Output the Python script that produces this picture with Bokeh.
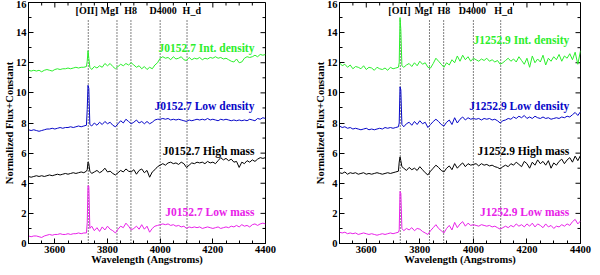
import math
from bokeh.plotting import figure
from bokeh.layouts import row
from bokeh.models import Range1d, SingleIntervalTicker
from bokeh.core.properties import value
from bokeh.embed import file_html
from bokeh.resources import INLINE

# ---------------- data ----------------
wave = list(range(3500, 3721, 10)) + [3723, 3726, 3729, 3733] + list(range(3740, 4401, 10))

line_wave = [3727, 3836, 3889, 4000, 4102]
line_names = ["[OII]", "MgI", "H8", "D4000", "H_d"]

# Left panel: J0152.7
l_int_pre = [11.5, 11.45, 11.5, 11.45, 11.5, 11.4, 11.5, 11.55, 11.5, 11.45, 11.55, 11.6,
             11.55, 11.6, 11.6, 11.65, 11.6, 11.65, 11.7, 11.65, 11.7, 11.7, 11.75]
l_int_spk = [12.1, 12.8, 12.3, 11.7]
l_int_post = [11.55, 11.75, 11.65, 11.8, 11.7, 11.95, 11.8, 11.95, 11.75, 11.6,      # 3740-3830
              11.75, 11.9, 11.8, 11.95, 11.85, 12.0, 11.85, 11.7, 11.8, 11.6,       # 3840-3930
              11.75, 11.55, 11.7, 11.6, 11.85, 12.0, 12.3, 12.4, 12.3, 12.35,       # 3940-4030
              12.2, 12.4, 12.25, 12.3, 12.4, 12.2, 12.15, 12.35, 12.2, 12.3,        # 4040-4130
              12.25, 12.35, 12.2, 12.3, 12.25, 12.35, 12.3, 12.4, 12.3, 12.35,      # 4140-4230
              12.25, 12.3, 12.2, 12.1, 12.05, 12.25, 12.0, 12.05, 12.3, 12.4,       # 4240-4330
              12.35, 12.4, 12.5, 12.4, 12.55, 12.5, 12.55]                          # 4340-4400

l_low_pre = [7.55, 7.5, 7.55, 7.5, 7.45, 7.5, 7.55, 7.6, 7.6, 7.65, 7.6, 7.65,
             7.7, 7.65, 7.7, 7.7, 7.75, 7.7, 7.75, 7.8, 7.75, 7.8, 7.85]
l_low_spk = [8.9, 10.5, 10.3, 7.9]
l_low_post = [7.8, 8.0, 7.85, 8.05, 7.9, 8.1, 7.95, 8.05, 7.85, 7.75,
              7.95, 8.15, 8.0, 8.25, 8.1, 7.95, 8.05, 8.2, 8.0, 8.1,
              7.95, 8.1, 7.95, 8.05, 8.2, 8.25, 8.25, 8.3, 8.25, 8.3,
              8.2, 8.25, 8.2, 8.25, 8.2, 8.15, 8.1, 8.2, 8.15, 8.2,
              8.25, 8.2, 8.25, 8.2, 8.3, 8.2, 8.25, 8.2, 8.15, 8.25,
              8.2, 8.25, 8.2, 8.15, 8.2, 8.15, 8.2, 8.15, 8.2, 8.15,
              8.25, 8.2, 8.15, 8.3, 8.25, 8.35, 8.3]

l_high_pre = [4.45, 4.4, 4.45, 4.5, 4.45, 4.5, 4.45, 4.5, 4.55, 4.5, 4.55, 4.6,
              4.55, 4.6, 4.65, 4.6, 4.65, 4.7, 4.65, 4.7, 4.75, 4.7, 4.8]
l_high_spk = [4.9, 5.4, 5.3, 4.8]
l_high_post = [4.65, 4.75, 4.85, 4.7, 4.8, 5.0, 4.75, 4.8, 4.65, 4.55,
               4.7, 4.85, 4.75, 4.95, 4.8, 4.75, 4.9, 4.6, 4.85, 4.95,
               4.7, 4.85, 4.4, 4.75, 4.9, 5.1, 5.2, 5.3, 5.2, 5.35,
               5.4, 5.3, 5.35, 5.25, 5.4, 5.3, 5.05, 5.2, 5.35, 5.3,
               5.4, 5.35, 5.4, 5.3, 5.45, 5.35, 5.4, 5.3, 5.5, 5.7,
               5.55, 5.65, 5.5, 5.6, 5.4, 5.45, 5.05, 5.4, 5.3, 5.5,
               5.4, 5.55, 5.45, 5.6, 5.7, 5.65, 5.7]

l_lowm_pre = [0.5, 0.45, 0.5, 0.5, 0.45, 0.4, 0.5, 0.55, 0.6, 0.55, 0.6, 0.6,
              0.65, 0.6, 0.6, 0.65, 0.6, 0.65, 0.65, 0.7, 0.65, 0.7, 0.7]
l_lowm_spk = [1.4, 3.85, 3.8, 1.0]
l_lowm_post = [1.15, 0.85, 1.05, 0.8, 1.1, 0.9, 1.15, 0.95, 0.85, 0.7,
               0.95, 1.15, 1.05, 1.35, 1.15, 0.9, 1.0, 1.15, 0.95, 1.25,
               0.95, 1.15, 0.75, 1.0, 1.15, 1.2, 1.25, 1.3, 1.25, 1.3,
               1.2, 1.25, 1.15, 1.2, 1.1, 1.15, 1.0, 1.1, 1.05, 1.1,
               1.05, 1.1, 1.0, 1.05, 1.1, 1.05, 1.0, 1.05, 1.1, 1.0,
               1.05, 1.1, 1.05, 1.15, 1.1, 1.2, 1.1, 1.25, 1.15, 1.2,
               1.1, 1.25, 1.3, 1.2, 1.3, 1.35, 1.3]

# Right panel: J1252.9
r_int_pre = [12.0, 11.8, 11.9, 11.7, 11.85, 11.6, 11.75, 11.7, 11.6, 11.8, 11.55, 11.7,
             11.65, 11.5, 11.7, 11.6, 11.55, 11.65, 11.5, 11.7, 11.6, 11.65, 11.7]
r_int_spk = [12.0, 15.0, 14.2, 11.8]
r_int_post = [11.7, 11.85, 11.95, 11.75, 12.0, 11.8, 12.1, 11.9, 12.0, 11.7,
              11.65, 11.95, 12.3, 12.1, 11.9, 11.7, 12.0, 11.85, 12.2, 12.0,
              12.45, 12.1, 12.5, 12.2, 12.4, 12.1, 12.3, 12.2, 12.1, 12.25,
              12.15, 12.3, 12.1, 12.2, 12.05, 12.15, 11.9, 12.0, 12.15, 12.3,
              12.1, 12.25, 12.05, 12.4, 12.15, 11.9, 12.3, 11.7, 12.45, 12.0,
              12.25, 12.05, 12.5, 11.85, 12.3, 12.1, 12.4, 12.2, 12.55, 12.1,
              12.45, 12.3, 12.6, 12.2, 12.7, 11.9, 12.8]

r_low_pre = [7.8, 7.7, 7.75, 7.65, 7.7, 7.6, 7.65, 7.6, 7.55, 7.6, 7.65, 7.55,
             7.6, 7.55, 7.6, 7.65, 7.6, 7.7, 7.65, 7.7, 7.65, 7.7, 7.75]
r_low_spk = [8.0, 10.4, 10.2, 7.9]
r_low_post = [7.75, 7.95, 8.05, 7.85, 8.1, 7.9, 8.15, 7.95, 8.05, 7.7,
              7.9, 8.1, 8.25, 8.1, 7.9, 7.8, 8.05, 8.2, 7.9, 8.35,
              8.0, 8.25, 8.4, 8.2, 8.35, 8.25, 8.3, 8.25, 8.3, 8.2,
              8.3, 8.25, 8.3, 8.2, 8.25, 8.15, 8.0, 8.15, 8.2, 8.3,
              8.25, 8.4, 8.3, 8.45, 8.35, 8.5, 8.3, 8.4, 8.3, 8.45,
              8.35, 8.3, 8.4, 8.3, 8.35, 8.25, 8.3, 8.35, 8.3, 8.4,
              8.35, 8.45, 8.4, 8.55, 8.7, 8.5, 8.75]

r_high_pre = [4.7, 4.65, 4.75, 4.6, 4.7, 4.65, 4.7, 4.6, 4.65, 4.7, 4.6, 4.65,
              4.6, 4.65, 4.7, 4.65, 4.6, 4.65, 4.7, 4.65, 4.7, 4.75, 4.8]
r_high_spk = [5.4, 5.75, 5.5, 5.1]
r_high_post = [5.0, 4.85, 5.05, 4.9, 5.0, 4.85, 5.1, 4.9, 4.7, 4.55,
               4.8, 5.0, 5.2, 5.05, 4.85, 4.75, 5.0, 5.15, 4.9, 5.3,
               5.0, 5.2, 5.35, 5.1, 5.3, 5.2, 5.25, 5.3, 5.15, 5.3,
               5.2, 5.25, 5.15, 5.2, 5.1, 5.05, 4.95, 5.1, 5.2, 5.1,
               5.3, 5.2, 5.4, 5.25, 5.1, 5.45, 5.3, 5.0, 5.4, 5.2,
               5.55, 5.3, 5.45, 5.2, 5.5, 5.0, 5.35, 5.2, 5.45, 5.6,
               5.3, 5.55, 5.7, 5.4, 5.8, 5.5, 5.85]

r_lowm_pre = [0.75, 0.7, 0.75, 0.65, 0.7, 0.65, 0.7, 0.6, 0.65, 0.7, 0.65, 0.6,
              0.65, 0.6, 0.55, 0.6, 0.65, 0.6, 0.65, 0.7, 0.65, 0.7, 0.75]
r_lowm_spk = [0.9, 3.45, 3.35, 1.0]
r_lowm_post = [0.85, 1.0, 0.9, 1.05, 0.85, 1.0, 0.95, 0.8, 0.7, 0.6,
               0.85, 1.05, 1.25, 1.0, 0.85, 0.7, 1.0, 1.2, 0.9, 1.4,
               1.05, 1.3, 1.45, 1.15, 1.35, 1.2, 1.25, 1.2, 1.15, 1.25,
               1.2, 1.15, 1.2, 1.1, 1.15, 1.05, 0.95, 1.05, 1.15, 1.05,
               1.2, 1.1, 1.3, 1.15, 1.25, 1.1, 1.3, 1.15, 1.35, 1.1,
               1.3, 1.2, 1.05, 1.3, 1.1, 1.2, 1.0, 1.15, 1.1, 1.25,
               1.15, 1.3, 1.2, 1.45, 1.6, 1.3, 1.5]

left_names = ["J0152.7 Int. density", "J0152.7 Low density", "J0152.7 High mass", "J0152.7 Low mass"]
right_names = ["J1252.9 Int. density", "J1252.9 Low density", "J1252.9 High mass", "J1252.9 Low mass"]

left_series = [l_int_pre + l_int_spk + l_int_post,
               l_low_pre + l_low_spk + l_low_post,
               l_high_pre + l_high_spk + l_high_post,
               l_lowm_pre + l_lowm_spk + l_lowm_post]
right_series = [r_int_pre + r_int_spk + r_int_post,
                r_low_pre + r_low_spk + r_low_post,
                r_high_pre + r_high_spk + r_high_post,
                r_lowm_pre + r_lowm_spk + r_lowm_post]

for s in left_series + right_series:
    assert len(s) == len(wave), len(s)

# axis ticks (for the mirrored top / right tick marks)
x_major = list(range(3600, 4401, 200))
x_minor = [v for v in range(3500, 4401, 50) if v not in x_major]
y_major = list(range(0, 17, 2))
y_minor = list(range(1, 16, 2))

x_title = "Wavelength (Angstroms)"
y_title = "Normalized Flux+Constant"

# ---------------- style ----------------
colors = ["#2cee2c", "#0808c8", "#000000", "#e822e8"]
FONT = "Liberation Serif"

left_label_y = [12.98, 9.1, 6.13, 2.07]
right_label_y = [13.5, 9.1, 6.15, 2.1]
left_top_x = [3721, 3808, 3888, 4011, 4120]
right_top_x = [3724, 3814, 3890, 3996, 4112]


def make_panel(series, names, label_y, top_x, width, bl, br):
    p = figure(width=width, height=267, x_range=Range1d(3500, 4400), y_range=Range1d(0, 16),
               output_backend="svg", toolbar_location=None,
               min_border_left=bl, min_border_right=br, min_border_top=2, min_border_bottom=24)
    p.grid.visible = False
    p.outline_line_color = "black"
    p.background_fill_color = "white"
    p.border_fill_color = "white"

    p.xaxis.ticker = SingleIntervalTicker(interval=200, num_minor_ticks=4)
    p.yaxis.ticker = SingleIntervalTicker(interval=2, num_minor_ticks=2)
    for ax in (p.xaxis[0], p.yaxis[0]):
        ax.major_tick_in = 5
        ax.major_tick_out = 0
        ax.minor_tick_in = 3
        ax.minor_tick_out = 0
        ax.major_label_text_font = FONT
        ax.major_label_text_font_style = "bold"
        ax.major_label_text_font_size = "10.5px"
        ax.major_label_text_color = "black"
        ax.axis_label_text_font = FONT
        ax.axis_label_text_font_style = "bold"
        ax.axis_label_text_font_size = "10.5px"
        ax.axis_label_text_color = "black"
        ax.major_label_standoff = 2
        ax.axis_label_standoff = -2
    p.xaxis.axis_label = x_title
    p.yaxis.axis_label = y_title
    p.yaxis.major_label_orientation = "horizontal"

    # mirrored tick marks on the top and right edges
    down, left = -math.pi / 2, math.pi
    p.ray(x=x_major, y=[16] * len(x_major), length=5, length_units="screen", angle=down,
          line_color="black", line_width=1)
    p.ray(x=x_minor, y=[16] * len(x_minor), length=3, length_units="screen", angle=down,
          line_color="black", line_width=1)
    p.ray(x=[4400] * len(y_major), y=y_major, length=5, length_units="screen", angle=left,
          line_color="black", line_width=1)
    p.ray(x=[4400] * len(y_minor), y=y_minor, length=3, length_units="screen", angle=left,
          line_color="black", line_width=1)

    # dotted feature lines
    p.segment(x0=line_wave, y0=[0] * len(line_wave), x1=line_wave, y1=[14.9] * len(line_wave),
              line_color="black", line_dash="1 2", line_width=1)
    p.text(x=top_x, y=[15.45] * len(top_x), text=line_names, text_font=value(FONT),
           text_font_style="bold", text_font_size="10px", text_align="center",
           text_baseline="middle", text_color="black")

    for s, c, n, ly in zip(series, colors, names, label_y):
        p.line(wave, s, line_color=c, line_width=1)
        p.text(x=[4358], y=[ly], text=[n], text_font=value(FONT), text_font_style="bold",
               text_font_size="11.5px", text_align="right", text_baseline="middle", text_color=c)
    return p


p1 = make_panel(left_series, left_names, left_label_y, left_top_x, 311, 20, 46)
p2 = make_panel(right_series, right_names, right_label_y, right_top_x, 281, 20, 12)
layout = row(p1, p2, spacing=0)

open("out.html", "w").write(file_html(layout, INLINE))
